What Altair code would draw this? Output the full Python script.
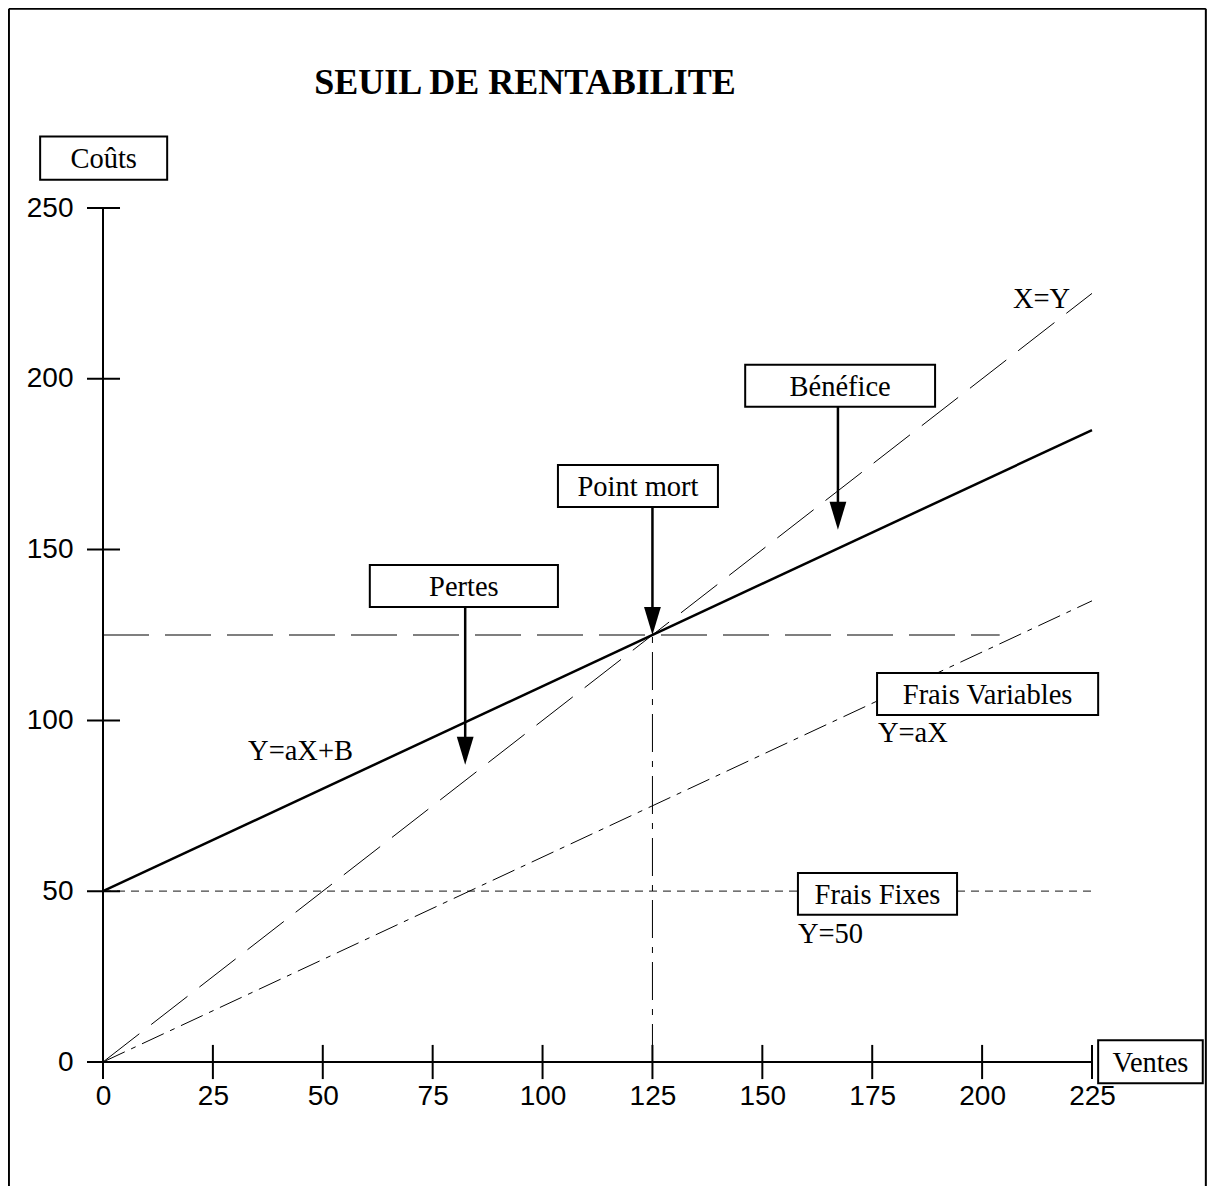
import altair as alt
import pandas as pd

# ---------------- data ----------------
x_tick_values = [0, 25, 50, 75, 100, 125, 150, 175, 200, 225]
y_tick_values = [0, 50, 100, 150, 200, 250]

ventes_range = [0, 225]
couts_totaux = [50, 185]        # Y = aX + B
droite_xy = [0, 225]            # X = Y
frais_variables = [0, 135]      # Y = aX
frais_fixes = [50, 50]          # Y = 50
point_mort_x = 125
point_mort_y = 125
seuil_h_x = [0, 204]

box_labels = ["Coûts", "Pertes", "Point mort", "Bénéfice",
              "Frais Variables", "Frais Fixes", "Ventes"]
box_x1 = [-14.3, 60.7, 103.5, 146.1, 176.1, 158.1, 226.4]
box_x2 = [14.6, 103.5, 139.9, 189.3, 226.4, 194.3, 250.2]
box_y1 = [258.3, 133.2, 162.5, 191.8, 101.6, 43.1, -6.2]
box_y2 = [270.9, 145.5, 174.8, 204.1, 113.9, 55.3, 6.4]

arrow_x = [82.4, 125, 167.2]
arrow_from = [133.2, 162.5, 191.8]
arrow_to = [87.0, 125, 155.8]

eq_labels = ["Y=aX+B", "Y=aX", "Y=50", "X=Y"]
eq_x = [33.0, 176.3, 158.1, 207.0]
eq_y = [88.4, 93.7, 34.8, 220.8]

title_text = "SEUIL DE RENTABILITE"
title_pos = (96, 283.4)

# frame around the figure (data units)
frame_left, frame_right, frame_top, frame_bottom = -21.4, 250.9, 308.3, -40

# ---------------- scales / axes ----------------
xs = alt.Scale(domain=[0, 225], nice=False, zero=False)
ys = alt.Scale(domain=[0, 250], nice=False, zero=False)
xaxis = alt.Axis(values=x_tick_values, domain=False, ticks=False, tickSize=0,
                 grid=False, labelPadding=20, labelFont="Liberation Sans",
                 labelFontSize=28, labelColor="black", labelFlush=False,
                 labelOverlap=False, title=None)
yaxis = alt.Axis(values=y_tick_values, domain=False, ticks=False, tickSize=0,
                 grid=False, labelPadding=30, labelFont="Liberation Sans",
                 labelFontSize=28, labelColor="black", labelFlush=False,
                 labelOverlap=False, title=None)

X = alt.X("x:Q", scale=xs, axis=xaxis)
Y = alt.Y("y:Q", scale=ys, axis=yaxis)


def seg_chart(df, **mark):
    return alt.Chart(df).mark_rule(**mark).encode(
        x=X, y=Y, x2="x2:Q", y2="y2:Q")


# frame
frame_df = pd.DataFrame({
    "x": [frame_left, frame_right, frame_left],
    "x2": [frame_left, frame_right, frame_right],
    "y": [frame_bottom, frame_bottom, frame_top],
    "y2": [frame_top, frame_top, frame_top],
})
frame = seg_chart(frame_df, color="black", strokeWidth=2)

# axis lines
axes_df = pd.DataFrame({
    "x": [0, 0], "x2": [0, 225], "y": [0, 0], "y2": [250, 0]
})
axes = seg_chart(axes_df, color="black", strokeWidth=2)

# ticks crossing the axes
yt_df = pd.DataFrame({"y": y_tick_values, "y2": y_tick_values,
                      "x": [-3.64] * len(y_tick_values),
                      "x2": [3.87] * len(y_tick_values)})
xt_df = pd.DataFrame({"x": x_tick_values, "x2": x_tick_values,
                      "y": [-5.0] * len(x_tick_values),
                      "y2": [5.0] * len(x_tick_values)})
yticks = seg_chart(yt_df, color="black", strokeWidth=2)
xticks = seg_chart(xt_df, color="black", strokeWidth=2)


def line(xv, yv, **mark):
    return alt.Chart(pd.DataFrame({"x": xv, "y": yv})).mark_line(**mark).encode(x=X, y=Y)


l_xy = line(ventes_range, droite_xy, color="black", strokeWidth=1, strokeDash=[46, 15])
l_var = line(ventes_range, frais_variables, color="black", strokeWidth=1,
             strokeDash=[24, 7, 5, 7])
l_fix = line(ventes_range, frais_fixes, color="#444444", strokeWidth=1.3,
             strokeDash=[8, 6])
l_h = line(seuil_h_x, [point_mort_y, point_mort_y], color="black",
           strokeWidth=1.1, strokeDash=[46, 16])
l_v = line([point_mort_x, point_mort_x], [0, point_mort_y], color="black",
           strokeWidth=1, strokeDash=[38, 9, 6, 9])
l_cost = line(ventes_range, couts_totaux, color="black", strokeWidth=2.5)

# boxes
box_df = pd.DataFrame({
    "label": box_labels, "x": box_x1, "x2": box_x2, "y": box_y1, "y2": box_y2,
})
box_df["cx"] = (box_df["x"] + box_df["x2"]) / 2
box_df["cy"] = (box_df["y"] + box_df["y2"]) / 2
boxes = alt.Chart(box_df).mark_rect(fill="white", stroke="black", strokeWidth=2).encode(
    x=X, y=Y, x2="x2:Q", y2="y2:Q")
box_text = alt.Chart(box_df).mark_text(
    font="Liberation Serif", fontSize=28.5, color="black", align="center",
    baseline="middle", dy=1).encode(
    x=alt.X("cx:Q", scale=xs, axis=xaxis), y=alt.Y("cy:Q", scale=ys, axis=yaxis),
    text="label:N")

# arrows
arr_df = pd.DataFrame({"x": arrow_x, "x2": arrow_x, "y": arrow_from,
                       "y2": [t + 4 for t in arrow_to]})
shafts = seg_chart(arr_df, color="black", strokeWidth=2.5)
head_df = pd.DataFrame({"x": arrow_x, "y": arrow_to})
heads = alt.Chart(head_df).mark_point(
    shape="M-0.6,-2L0.6,-2L0,0Z", size=784, filled=True, color="black",
    opacity=1, strokeWidth=0).encode(x=X, y=Y)

# equations
eq_df = pd.DataFrame({"label": eq_labels, "x": eq_x, "y": eq_y})
eqs = alt.Chart(eq_df).mark_text(
    font="Liberation Serif", fontSize=28.5, color="black", align="left",
    baseline="alphabetic").encode(x=X, y=Y, text="label:N")

# title
title_df = pd.DataFrame({"label": [title_text], "x": [title_pos[0]], "y": [title_pos[1]]})
title = alt.Chart(title_df).mark_text(
    font="Liberation Serif", fontSize=36, fontWeight="bold", color="black",
    align="center", baseline="alphabetic").encode(x=X, y=Y, text="label:N")

chart = alt.layer(
    frame, l_fix, l_var, l_xy, l_h, l_v, l_cost, axes, yticks, xticks,
    boxes, box_text, shafts, heads, eqs, title
).properties(
    width=989, height=854,
    autosize=alt.AutoSizeParams(type="none"),
    padding={"left": 95, "top": 200, "right": 115, "bottom": 124},
    background="white",
).configure_view(strokeWidth=0)

chart.save("out.html", embed_options={"renderer": "svg", "actions": False})
